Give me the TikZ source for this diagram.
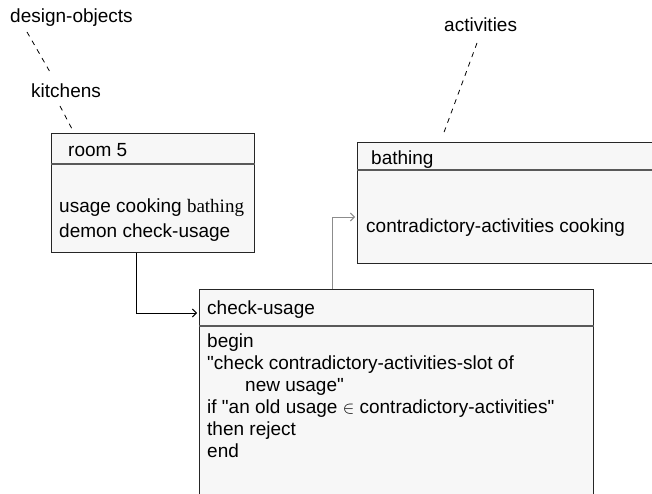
\documentclass[tikz,border=0pt]{standalone}
\usepackage{fontspec}
\setmainfont{Liberation Sans}
\newfontfamily\serifface{Liberation Serif}
\usetikzlibrary{arrows.meta}

\begin{document}
\begin{tikzpicture}[x=1pt,y=-1pt,
  lbl/.style={anchor=base west,inner sep=0pt,font=\fontsize{19}{22}\selectfont},
  frame/.style={draw=black!85,fill=black!3,line width=1.1pt,anchor=north west,inner sep=0pt},
  divider/.style={draw=black!65,line width=1.4pt},
  link/.style={dash pattern=on 5pt off 5pt,line width=0.8pt},
  flow/.style={line width=1pt,-{Straight Barb[length=4pt,width=8pt]},shorten >=2pt},
]
\clip (0,0) rectangle (652,494);
\fill[white] (0,0) rectangle (652,494);

% frames
\node[frame,minimum width=203pt,minimum height=119pt] (room) at (50.5,133) {};
\draw[divider] (room.west |- 0,164) -- (room.east |- 0,164);

\node[frame,minimum width=330pt,minimum height=121pt] (bath) at (357,142) {};
\draw[divider] (bath.west |- 0,170) -- (bath.east |- 0,170);

\node[frame,minimum width=394pt,minimum height=230pt] (chk) at (199,289) {};
\draw[divider] (chk.west |- 0,326) -- (chk.east |- 0,326);

% class labels and links
\node[lbl] (design) at (10,23) {design-objects};
\node[lbl] (kitch) at (31,98) {kitchens};
\node[lbl] (activ) at (444,32) {activities};

\coordinate (d1) at (27,32);  \coordinate (d2) at (50,72);
\coordinate (k1) at (60,106); \coordinate (k2) at (72,129);
\coordinate (a1) at (477,43); \coordinate (a2) at (443,135);
\draw[link] (d1) -- (d2);
\draw[link] (k1) -- (k2);
\draw[link] (a1) -- (a2);

% room 5
\node[lbl] (roomt) at (68,157) {room 5};
\node[lbl] (room1) at (59,212) {usage cooking {\serifface bathing}};
\node[lbl] (room2) at (59,237) {demon check-usage};

% bathing
\node[lbl] (batht) at (371,165) {bathing};
\node[lbl] (bath1) at (366,233) {contradictory-activities cooking};

% check-usage
\node[lbl] (chkt) at (207,314) {check-usage};
\node[lbl] (c1) at (207,347) {begin};
\node[lbl] (c2) at (207,369) {\textquotedbl check contradictory-activities-slot of};
\node[lbl] (c3) at (245,391) {new usage\textquotedbl};
\node[lbl] (c4) at (207,413) {if \textquotedbl an old usage $\in$\ contradictory-activities\textquotedbl};
\node[lbl] (c5) at (207,435) {then reject};
\node[lbl] (c6) at (207,457) {end};

% connectors
\draw[flow] (room.south -| 136,0) |- (chk.west |- 0,313);
\draw[flow,draw=black!45] (chk.north -| 332,0) |- (bath.west |- 0,217);
\end{tikzpicture}
\end{document}
